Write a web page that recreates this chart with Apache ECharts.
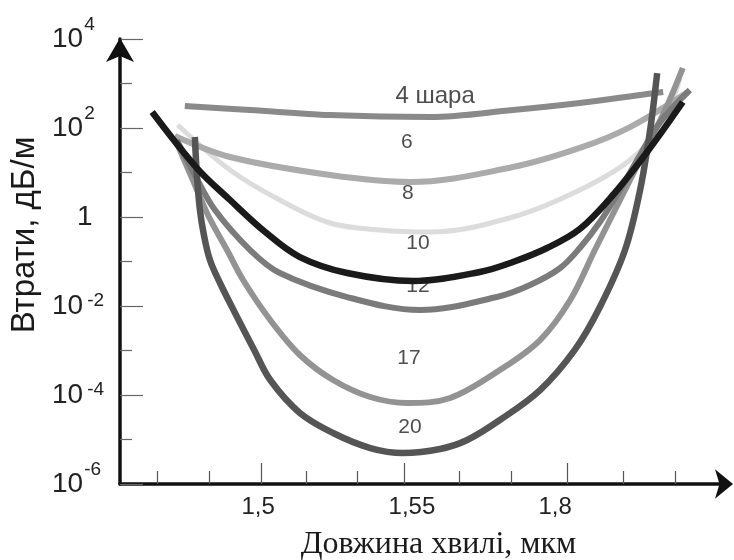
<!DOCTYPE html>
<html>
<head>
<meta charset="utf-8">
<script src="https://cdn.jsdelivr.net/npm/echarts@6/dist/echarts.min.js"></script>
<style>
html,body{margin:0;padding:0;background:#fff;}
#chart{width:734px;height:560px;}
</style>
</head>
<body>
<div id="chart"></div>
<script>
// ---- data (x in wavelength-axis units, y in dB/m) ----
const xTicksMajor = [2.81, 5.65, 8.90];
const xTicksMinor = [0.74, 1.77, 3.70, 4.72, 6.75, 7.78, 10.01, 11.05];
const xLabelPos = [2.75, 5.81, 8.66];
const xLabelText = ['1,5', '1,55', '1,8'];
const yTicksMajor = [1e-6, 1e-4, 1e-2, 1, 1e2, 1e4];
const yTicksMinor = [1e-5, 1e-3, 1e-1, 1e1, 1e3];

const layers4X = [1.29, 2.59, 4.18, 6.17, 7.82, 9.15, 10.49, 10.81];
const layers4Y = [312, 254, 196, 177, 254, 365, 581, 644];

const layers6X = [1.09, 2.19, 4.18, 5.77, 7.82, 9.15, 10.15, 11.30];
const layers6Y = [66.1, 22.3, 8.79, 6.12, 13.3, 35.6, 105, 644];

const layers8X = [1.15, 2.19, 3.18, 4.18, 5.17, 6.17, 7.82, 9.15, 10.15, 10.81, 11.14];
const layers8Y = [117, 11.4, 2.41, 0.733, 0.511, 0.46, 1.0, 4.04, 19.1, 129, 1330];

const layers10X = [0.64, 1.53, 2.19, 2.89, 3.58, 4.52, 5.83, 7.16, 7.82, 8.50, 9.15, 9.81, 10.49, 11.20];
const layers10Y = [229, 12.6, 2.41, 0.46, 0.126, 0.0552, 0.0365, 0.058, 0.0975, 0.201, 0.537, 3.12, 28.9, 384];

const layers12X = [1.13, 1.49, 1.89, 2.59, 3.18, 4.52, 5.97, 7.50, 8.16, 8.76, 9.15, 9.55, 9.95, 10.35, 10.75, 11.34];
const layers12Y = [53.7, 8.79, 1.44, 0.181, 0.0552, 0.0159, 0.00813, 0.0159, 0.0296, 0.0715, 0.201, 0.771, 4.04, 24.7, 136, 714];

const layers17X = [1.13, 1.45, 1.75, 2.13, 2.45, 2.99, 3.58, 4.24, 4.98, 5.71, 6.57, 7.56, 8.36, 8.96, 9.45, 9.95, 10.45, 10.85, 11.20];
const layers17Y = [46.0, 6.78, 1.11, 0.181, 0.0384, 0.00484, 7.93e-4, 2.17e-4, 9.02e-5, 6.61e-5, 8.57e-5, 3.65e-4, 1.72e-3, 1.36e-2, 0.181, 2.41, 32.1, 254, 2230];

const layers20X = [1.49, 1.53, 1.59, 1.67, 1.79, 1.99, 2.33, 2.67, 2.99, 3.58, 4.24, 4.98, 5.63, 6.37, 6.91, 7.56, 8.36, 9.05, 9.55, 10.05, 10.35, 10.55, 10.69];
const layers20Y = [62.8, 8.79, 1.44, 0.394, 0.108, 0.0329, 5.66e-3, 1.03e-3, 2.17e-4, 3.95e-5, 1.40e-5, 6.44e-6, 4.98e-6, 6.12e-6, 9.75e-6, 2.74e-5, 1.29e-4, 1.03e-3, 9.48e-3, 0.181, 4.04, 90.2, 1720];

const noteText = ['4 шара', '6', '8', '10', '12', '17', '20'];
const noteX = [6.27, 5.71, 5.73, 5.93, 5.93, 5.75, 5.77];
const noteY = [523, 48.4, 3.46, 0.261, 0.0281, 6.78e-4, 1.91e-5];

const thresholdValue = 1e-4;
const thresholdText = '0,1 дБ/м';

// ---- helpers ----
const zip = (xs, ys) => xs.map((x, i) => [x, ys[i]]);
const SANS = 'Liberation Sans, Arial, Helvetica, sans-serif';

function curve(name, xs, ys, color, width) {
  return {
    name: name, type: 'line', data: zip(xs, ys), smooth: 0.35,
    symbol: 'none', showSymbol: false,
    lineStyle: { color: color, width: width, cap: 'butt', join: 'round' },
    itemStyle: { color: color },
    emphasis: { disabled: true }, animation: false
  };
}

function yLabel(v) {
  const e = Math.round(Math.log10(v));
  if (e === 0) return '{one|1}';
  const s = e < 0 ? '-' + (-e) : String(e);
  const key = (e === -2 || e === -4) ? 'sb' : 'sa';
  return '{b|10}{' + key + '|' + s + '}';
}

const chart = echarts.init(document.getElementById('chart'), null, { renderer: 'canvas' });

const series = [
  {
    name: 'notes', type: 'scatter', symbolSize: 0, z: 1,
    data: noteText.map((t, i) => ({
      name: t, value: [noteX[i], noteY[i]],
      label: i === 0 ? { fontSize: 24 } : undefined
    })),
    label: { show: true, position: 'inside', formatter: '{b}', color: '#222', fontSize: 21, fontFamily: SANS },
    emphasis: { disabled: true }, silent: true
  },
  Object.assign(curve('8', layers8X, layers8Y, '#dcdcdc', 5), {
    markLine: {
      silent: true, symbol: ['none', 'none'], animation: false,
      lineStyle: { color: '#7a7a7a', width: 1.5, type: 'solid' },
      label: { show: true, position: 'insideEndBottom', formatter: thresholdText, color: '#222', fontSize: 23, fontFamily: SANS, distance: 3, padding: [0, 6, 0, 0] },
      data: [{ yAxis: thresholdValue }]
    }
  }),
  curve('6', layers6X, layers6Y, '#ababab', 6),
  curve('4', layers4X, layers4Y, '#8a8a8a', 6),
  curve('17', layers17X, layers17Y, '#939393', 6),
  curve('12', layers12X, layers12Y, '#7b7b7b', 6),
  curve('20', layers20X, layers20Y, '#555555', 6.5),
  curve('10', layers10X, layers10Y, '#1a1a1a', 6.5)
];

const option = {
  backgroundColor: '#ffffff',
  animation: false,
  grid: { left: 120, right: 11, top: 39, bottom: 76, containLabel: false, outerBoundsMode: 'none' },
  xAxis: [
    {
      type: 'value', min: 0, max: 12, position: 'bottom',
      name: 'Довжина хвилі, мкм', nameLocation: 'middle', nameGap: 45,
      nameTextStyle: { fontFamily: 'Liberation Serif, Times New Roman, serif', fontSize: 32, color: '#1a1a1a', padding: [0, 0, 0, 34] },
      axisLine: { show: true, onZero: false, symbol: ['none', 'arrow'], symbolSize: [22, 18], symbolOffset: [0, 10], lineStyle: { color: '#111', width: 3.5 } },
      axisTick: { show: true, inside: true, length: 21, customValues: xTicksMajor, lineStyle: { color: '#555', width: 1.2 } },
      axisLabel: {
        show: true, customValues: xLabelPos, margin: 11, fontSize: 24, fontFamily: SANS, color: '#222',
        formatter: v => { const i = xLabelPos.findIndex(p => Math.abs(p - v) < 1e-6); return i >= 0 ? xLabelText[i] : ''; }
      },
      splitLine: { show: false }
    },
    {
      type: 'value', min: 0, max: 12, position: 'bottom', offset: 0,
      axisLine: { show: false },
      axisTick: { show: true, inside: true, length: 13, customValues: xTicksMinor, lineStyle: { color: '#555', width: 1.2 } },
      axisLabel: { show: false },
      splitLine: { show: false }
    }
  ],
  yAxis: [
    {
      type: 'log', logBase: 10, min: 1e-6, max: 1e4, position: 'left',
      name: 'Втрати, дБ/м', nameLocation: 'middle', nameGap: 71, nameRotate: 90,
      nameTextStyle: { fontFamily: SANS, fontSize: 33, color: '#1a1a1a', padding: [0, 0, 0, 53] },
      axisLine: { show: true, onZero: false, symbol: ['none', 'arrow'], symbolSize: [21, 24], symbolOffset: [0, 1], lineStyle: { color: '#111', width: 3.5 } },
      axisTick: { show: true, inside: true, length: 23, customValues: yTicksMajor, lineStyle: { color: '#666', width: 1.2 } },
      axisLabel: {
        show: true, customValues: yTicksMajor, align: 'left', margin: 68, formatter: yLabel,
        rich: {
          b: { fontSize: 28, lineHeight: 28, fontFamily: SANS, color: '#222' },
          one: { fontSize: 28, lineHeight: 28, fontFamily: SANS, color: '#222', padding: [0, 0, 0, 25] },
          sa: { fontSize: 19, lineHeight: 19, fontFamily: SANS, color: '#222', padding: [0, 0, 28, 1] },
          sb: { fontSize: 19, lineHeight: 19, fontFamily: SANS, color: '#222', padding: [0, 0, 10, 4] }
        }
      },
      splitLine: { show: false }
    },
    {
      type: 'log', logBase: 10, min: 1e-6, max: 1e4, position: 'left', offset: 0,
      axisLine: { show: false },
      axisTick: { show: true, inside: true, length: 12, customValues: yTicksMinor, lineStyle: { color: '#666', width: 1.2 } },
      axisLabel: { show: false },
      splitLine: { show: false }
    }
  ],
  series: series
};

chart.setOption(option);
</script>
</body>
</html>
